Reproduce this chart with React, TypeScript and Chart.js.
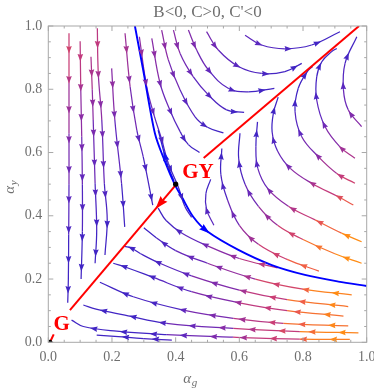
import React, { useEffect, useRef } from "react";
import { Chart, registerables } from "chart.js";

Chart.register(...registerables);

type P = [number, number];

// ---------- labels & ticks ----------
const titleText = "B<0, C>0, C'<0";
const xTickValues = [0, 0.2, 0.4, 0.6, 0.8, 1.0];
const yTickValues = [0, 0.2, 0.4, 0.6, 0.8, 1.0];
const xAxisLabel = ["α", "g"];
const yAxisLabel = ["α", "y"];
const pointLabels = [
  { text: "G", x: 0.042, y: 0.055 },
  { text: "GY", x: 0.47, y: 0.536 },
];

// ---------- fixed points ----------
const fixedPoints: P[] = [
  [0.005, 0.0],
  [0.4, 0.5],
];

// ---------- highlighted curves ----------
const separatrix: P[] = [
  [0.272, 1.0], [0.298, 0.861], [0.335, 0.66], [0.365, 0.575], [0.398, 0.497],
  [0.419, 0.46], [0.455, 0.397], [0.5, 0.35], [0.597, 0.292], [0.702, 0.244],
  [0.806, 0.213], [0.911, 0.192], [1.0, 0.178],
];
const redLower: P[] = [[0.4, 0.497], [0.068, 0.102]];
const redUpper: P[] = [[0.488, 0.583], [0.976, 1.0]];
const redTiny: P[] = [[0.007, 0.004], [0.017, 0.025]];

// ---------- streamlines (ordered along the flow) ----------
const sA: P[] = [[0.065, 0.977], [0.065, 0.82], [0.065, 0.66], [0.065, 0.5], [0.064, 0.34], [0.063, 0.2], [0.061, 0.125]];
const sB: P[] = [[0.1, 0.952], [0.102, 0.8], [0.105, 0.65], [0.107, 0.5], [0.107, 0.35], [0.103, 0.2]];
const sC: P[] = [[0.134, 0.903], [0.138, 0.8], [0.141, 0.703], [0.147, 0.503], [0.152, 0.355], [0.147, 0.25]];
const sD: P[] = [[0.154, 0.993], [0.157, 0.85], [0.168, 0.703], [0.176, 0.503], [0.185, 0.39], [0.178, 0.276]];
const sE: P[] = [[0.199, 0.866], [0.209, 0.703], [0.23, 0.503], [0.24, 0.365]];
const sF: P[] = [[0.241, 0.977], [0.257, 0.808], [0.278, 0.671], [0.298, 0.587], [0.319, 0.481], [0.328, 0.434]];
const sG1: P[] = [[0.286, 0.966], [0.309, 0.808], [0.333, 0.715], [0.355, 0.645], [0.377, 0.566], [0.408, 0.492], [0.429, 0.429], [0.45, 0.395]];
const sG2: P[] = [[0.395, 0.51], [0.375, 0.56], [0.345, 0.671]];
const sH: P[] = [[0.325, 0.961], [0.351, 0.819], [0.382, 0.734], [0.414, 0.666], [0.44, 0.625], [0.475, 0.6]];
const sI: P[] = [[0.356, 0.987], [0.377, 0.893], [0.414, 0.798], [0.461, 0.713], [0.5, 0.68], [0.55, 0.662]];
const sJ: P[] = [[0.393, 0.987], [0.414, 0.913], [0.455, 0.84], [0.505, 0.78], [0.56, 0.735], [0.615, 0.727]];
const sK: P[] = [[0.44, 0.987], [0.466, 0.924], [0.503, 0.861], [0.565, 0.803], [0.628, 0.792], [0.71, 0.803]];
const sL: P[] = [[0.497, 0.982], [0.534, 0.924], [0.597, 0.872], [0.67, 0.85], [0.743, 0.856], [0.796, 0.882]];
const sM: P[] = [[0.618, 0.971], [0.67, 0.94], [0.743, 0.928], [0.827, 0.94], [0.916, 0.982]];
const sC1: P[] = [[0.984, 0.682], [0.942, 0.735], [0.927, 0.798], [0.932, 0.882], [0.969, 0.966]];
const sC2: P[] = [[0.963, 0.582], [0.916, 0.618], [0.869, 0.682], [0.843, 0.766], [0.843, 0.839], [0.859, 0.887], [0.89, 0.919], [0.906, 0.929]];
const sC3: P[] = [[0.963, 0.503], [0.906, 0.534], [0.848, 0.587], [0.796, 0.65], [0.775, 0.729], [0.785, 0.803], [0.815, 0.858], [0.83, 0.872]];
const sC4: P[] = [[0.958, 0.434], [0.911, 0.46], [0.827, 0.503], [0.76, 0.55], [0.72, 0.605], [0.703, 0.665], [0.707, 0.725], [0.722, 0.775]];
const sRd: P[] = [[0.984, 0.318], [0.921, 0.345], [0.838, 0.387], [0.754, 0.43], [0.69, 0.485], [0.658, 0.55], [0.652, 0.62], [0.657, 0.697]];
const sRc: P[] = [[0.984, 0.25], [0.9, 0.28], [0.8, 0.325], [0.72, 0.37], [0.66, 0.43], [0.618, 0.5], [0.598, 0.58], [0.602, 0.661]];
const sRb: P[] = [[0.85, 0.225], [0.75, 0.262], [0.66, 0.31], [0.6, 0.37], [0.563, 0.45], [0.542, 0.53], [0.545, 0.613]];
const sRa: P[] = [[0.52, 0.37], [0.497, 0.42], [0.495, 0.47], [0.51, 0.515]];
const sB1: P[] = [[0.388, 0.007], [0.3, 0.012], [0.22, 0.018], [0.152, 0.023]];
const sL2: P[] = [[0.947, 0.009], [0.79, 0.01], [0.58, 0.016], [0.372, 0.024], [0.215, 0.035], [0.11, 0.05], [0.073, 0.07]];
const sL3: P[] = [[0.974, 0.03], [0.79, 0.034], [0.581, 0.044], [0.372, 0.06], [0.241, 0.086], [0.15, 0.105], [0.11, 0.118]];
const sL4: P[] = [[0.942, 0.052], [0.738, 0.06], [0.581, 0.076], [0.424, 0.102], [0.267, 0.144], [0.162, 0.19]];
const sL5: P[] = [[0.927, 0.083], [0.75, 0.1], [0.6, 0.125], [0.45, 0.16], [0.33, 0.205], [0.25, 0.235], [0.204, 0.25]];
const sL6: P[] = [[0.942, 0.113], [0.75, 0.135], [0.6, 0.165], [0.45, 0.21], [0.35, 0.25], [0.29, 0.28], [0.26, 0.298], [0.24, 0.303]];
const sL7: P[] = [[0.953, 0.15], [0.8, 0.168], [0.65, 0.2], [0.5, 0.25], [0.4, 0.29], [0.34, 0.33], [0.3, 0.362]];
const sL8: P[] = [[0.72, 0.235], [0.6, 0.265], [0.5, 0.305], [0.42, 0.345], [0.37, 0.385], [0.345, 0.424]];

const streamlines: P[][] = [
  sA, sB, sC, sD, sE, sF, sG1, sH, sI, sJ, sK, sL, sM,
  sC1, sC2, sC3, sC4, sRd, sRc, sRb, sRa,
  sB1, sL2, sL3, sL4, sL5, sL6, sL7, sL8,
];

// ---------- styling helpers ----------
const stops: [number, number[]][] = [
  [0, [45, 35, 200]],
  [0.3, [95, 40, 190]],
  [0.5, [140, 45, 165]],
  [0.7, [200, 60, 120]],
  [0.85, [240, 95, 70]],
  [1, [255, 140, 20]],
];
function speedAt(u: number, v: number) {
  const sA_ = (u - 0.22) / 0.68 - 1.5 * Math.max(0, v - 0.3);
  const sB_ = (v - 0.1) * 0.95 - 0.8 * u;
  return Math.min(1, Math.max(0.12, sA_, sB_));
}
function colorAt(u: number, v: number) {
  const s = speedAt(u, v);
  for (let i = 1; i < stops.length; i++) {
    if (s <= stops[i][0]) {
      const [s0, c0] = stops[i - 1];
      const [s1, c1] = stops[i];
      const t = (s - s0) / (s1 - s0);
      const c = c0.map((a, k) => Math.round(a + (c1[k] - a) * t));
      return `rgb(${c[0]},${c[1]},${c[2]})`;
    }
  }
  return "rgb(255,140,20)";
}

const GRAY_TEXT = "#6f6f6f";
const FRAME = "#a8a8a8";
const SERIF = "'Liberation Serif', 'DejaVu Serif', serif";

function drawArrow(ctx: CanvasRenderingContext2D, x: number, y: number, dx: number, dy: number, len: number, hw: number, color: string) {
  const nx = -dy, ny = dx;
  const tx = x + dx * len * 0.5, ty = y + dy * len * 0.5;
  const bx = x - dx * len * 0.5, by = y - dy * len * 0.5;
  ctx.beginPath();
  ctx.moveTo(tx, ty);
  ctx.lineTo(bx + nx * hw, by + ny * hw);
  ctx.lineTo(bx + dx * len * 0.12, by + dy * len * 0.12);
  ctx.lineTo(bx - nx * hw, by - ny * hw);
  ctx.closePath();
  ctx.fillStyle = color;
  ctx.fill();
}

const arrowPlugin = {
  id: "streamArrows",
  afterDatasetsDraw(chart: any) {
    const ctx: CanvasRenderingContext2D = chart.ctx;
    const xs = chart.scales.x, ys = chart.scales.y;
    chart.data.datasets.forEach((ds: any, di: number) => {
      const cfg = ds.arrows;
      if (!cfg) return;
      const pts = chart.getDatasetMeta(di).data;
      const poly: number[][] = [];
      for (let i = 0; i < pts.length; i++) {
        const p = pts[i];
        if (i === 0) { poly.push([p.x, p.y]); continue; }
        const q = pts[i - 1];
        const c1x = q.cp2x ?? q.x, c1y = q.cp2y ?? q.y;
        const c2x = p.cp1x ?? p.x, c2y = p.cp1y ?? p.y;
        for (let k = 1; k <= 14; k++) {
          const t = k / 14, m = 1 - t;
          poly.push([
            m * m * m * q.x + 3 * m * m * t * c1x + 3 * m * t * t * c2x + t * t * t * p.x,
            m * m * m * q.y + 3 * m * m * t * c1y + 3 * m * t * t * c2y + t * t * t * p.y,
          ]);
        }
      }
      const cum = [0];
      for (let i = 1; i < poly.length; i++) {
        cum.push(cum[i - 1] + Math.hypot(poly[i][0] - poly[i - 1][0], poly[i][1] - poly[i - 1][1]));
      }
      const total = cum[cum.length - 1];
      const marks: { s: number; rev: boolean }[] = [];
      if (cfg.every) {
        for (let s = cfg.every * 0.55; s < total - 6; s += cfg.every) marks.push({ s, rev: false });
      }
      if (cfg.at) cfg.at.forEach((a: any) => marks.push({ s: a.f * total, rev: !!a.rev }));
      marks.forEach(({ s, rev }) => {
        let i = 1;
        while (i < cum.length - 1 && cum[i] < s) i++;
        const seg = cum[i] - cum[i - 1] || 1;
        const t = (s - cum[i - 1]) / seg;
        const x = poly[i - 1][0] + (poly[i][0] - poly[i - 1][0]) * t;
        const y = poly[i - 1][1] + (poly[i][1] - poly[i - 1][1]) * t;
        let dx = poly[i][0] - poly[i - 1][0], dy = poly[i][1] - poly[i - 1][1];
        const L = Math.hypot(dx, dy) || 1;
        dx /= L; dy /= L;
        if (rev) { dx = -dx; dy = -dy; }
        const color = cfg.color || colorAt(xs.getValueForPixel(x), ys.getValueForPixel(y));
        drawArrow(ctx, x, y, dx, dy, cfg.len, cfg.hw, color);
      });
    });
  },
};

const framePlugin = {
  id: "frameAndText",
  afterDraw(chart: any) {
    const ctx: CanvasRenderingContext2D = chart.ctx;
    const a = chart.chartArea;
    const xs = chart.scales.x, ys = chart.scales.y;
    ctx.save();
    ctx.strokeStyle = FRAME;
    ctx.lineWidth = 1;
    ctx.strokeRect(a.left, a.top, a.right - a.left, a.bottom - a.top);
    ctx.beginPath();
    for (let k = 0; k <= 20; k++) {
      const v = k / 20;
      const len = k % 4 === 0 ? 5 : 2.5;
      const px = xs.getPixelForValue(v), py = ys.getPixelForValue(v);
      ctx.moveTo(px, a.bottom); ctx.lineTo(px, a.bottom - len);
      ctx.moveTo(px, a.top); ctx.lineTo(px, a.top + len);
      ctx.moveTo(a.left, py); ctx.lineTo(a.left + len, py);
      ctx.moveTo(a.right, py); ctx.lineTo(a.right - len, py);
    }
    ctx.stroke();

    // title
    ctx.fillStyle = GRAY_TEXT;
    ctx.font = `17px ${SERIF}`;
    ctx.textAlign = "center";
    ctx.textBaseline = "alphabetic";
    ctx.fillText(titleText, (a.left + a.right) / 2, 17);

    const drawSub = (main: string, sub: string, cx: number, base: number) => {
      ctx.font = `italic 15px ${SERIF}`;
      const w1 = ctx.measureText(main).width;
      ctx.font = `italic 11px ${SERIF}`;
      const w2 = ctx.measureText(sub).width;
      const x0 = cx - (w1 + w2) / 2;
      ctx.textAlign = "left";
      ctx.font = `italic 15px ${SERIF}`;
      ctx.fillText(main, x0, base);
      ctx.font = `italic 11px ${SERIF}`;
      ctx.fillText(sub, x0 + w1 + 0.5, base + 3);
    };
    ctx.fillStyle = GRAY_TEXT;
    drawSub(xAxisLabel[0], xAxisLabel[1], xs.getPixelForValue(0.445), 383);
    ctx.save();
    ctx.translate(14, ys.getPixelForValue(0.49));
    ctx.rotate(-Math.PI / 2);
    drawSub(yAxisLabel[0], yAxisLabel[1], 0, 0);
    ctx.restore();

    // point labels
    ctx.fillStyle = "rgb(255,0,0)";
    ctx.font = `bold 21px ${SERIF}`;
    ctx.textAlign = "center";
    ctx.textBaseline = "middle";
    pointLabels.forEach((l) => ctx.fillText(l.text, xs.getPixelForValue(l.x), ys.getPixelForValue(l.y)));
    ctx.restore();
  },
};

export default function App() {
  const ref = useRef<HTMLCanvasElement>(null);
  useEffect(() => {
    const canvas = ref.current;
    if (!canvas) return;
    const toXY = (pts: P[]) => pts.map(([x, y]) => ({ x, y }));
    const segColor = (c: any) => {
      const d = c.chart.data.datasets[c.datasetIndex].data;
      const p = d[c.p0DataIndex], q = d[c.p1DataIndex];
      return colorAt((p.x + q.x) / 2, (p.y + q.y) / 2);
    };
    const datasets: any[] = [];
    streamlines.forEach((pts) =>
      datasets.push({
        data: toXY(pts),
        showLine: true,
        pointRadius: 0,
        borderWidth: 1.25,
        tension: 0.4,
        borderColor: "rgb(95,40,190)",
        segment: { borderColor: segColor },
        order: 5,
        arrows: { every: 30, len: 7.5, hw: 2.8 },
      })
    );
    datasets.push({
      data: toXY(sG2), showLine: true, pointRadius: 0, borderWidth: 1.3, tension: 0.4,
      borderColor: "rgb(40,30,220)", order: 4,
      arrows: { at: [{ f: 0.5 }], len: 10, hw: 3.2, color: "rgb(20,20,240)" },
    });
    datasets.push({
      data: toXY(separatrix), showLine: true, pointRadius: 0, borderWidth: 1.9, tension: 0.3,
      borderColor: "rgb(0,0,255)", order: 3,
      arrows: { at: [{ f: 0.56 }], len: 11, hw: 3.5, color: "rgb(0,0,255)" },
    });
    [redLower, redUpper, redTiny].forEach((pts, i) =>
      datasets.push({
        data: toXY(pts), showLine: true, pointRadius: 0, borderWidth: 2, tension: 0,
        borderColor: "rgb(255,0,0)", order: 2,
        arrows: i === 0 ? { at: [{ f: 0.15 }], len: 13, hw: 4.5, color: "rgb(255,0,0)" } : undefined,
      })
    );
    datasets.push({
      data: toXY(fixedPoints), showLine: false, pointRadius: 2.6, pointBackgroundColor: "#000",
      pointBorderWidth: 0, order: 0,
    });

    const chart = new Chart(canvas, {
      type: "scatter",
      data: { datasets },
      options: {
        animation: false,
        responsive: false,
        devicePixelRatio: 1,
        events: [],
        layout: { padding: { top: 26, right: 7.3, left: 0, bottom: 0 } },
        plugins: { legend: { display: false }, tooltip: { enabled: false }, title: { display: false } },
        scales: {
          x: {
            type: "linear", min: 0, max: 1,
            grid: { display: false, drawTicks: false },
            border: { display: false },
            afterBuildTicks: (s: any) => { s.ticks = xTickValues.map((v) => ({ value: v })); },
            afterFit: (s: any) => { s.height = 47.7; s.paddingLeft = 0; s.paddingRight = 0; },
            ticks: {
              color: GRAY_TEXT, padding: 7, maxRotation: 0,
              font: { family: SERIF, size: 14 },
              callback: (v: any) => Number(v).toFixed(1),
            },
          },
          y: {
            type: "linear", min: 0, max: 1,
            grid: { display: false, drawTicks: false },
            border: { display: false },
            afterBuildTicks: (s: any) => { s.ticks = yTickValues.map((v) => ({ value: v })); },
            afterFit: (s: any) => { s.width = 48.3; s.paddingTop = 0; s.paddingBottom = 0; },
            ticks: {
              color: GRAY_TEXT, padding: 6,
              font: { family: SERIF, size: 14 },
              callback: (v: any) => Number(v).toFixed(1),
            },
          },
        },
      } as any,
      plugins: [arrowPlugin, framePlugin],
    });
    return () => chart.destroy();
  }, []);
  return (
    <div style={{ position: "absolute", left: 0, top: 0, width: 374, height: 390, background: "#fff" }}>
      <canvas ref={ref} width={374} height={390} style={{ display: "block", width: 374, height: 390 }} />
    </div>
  );
}
